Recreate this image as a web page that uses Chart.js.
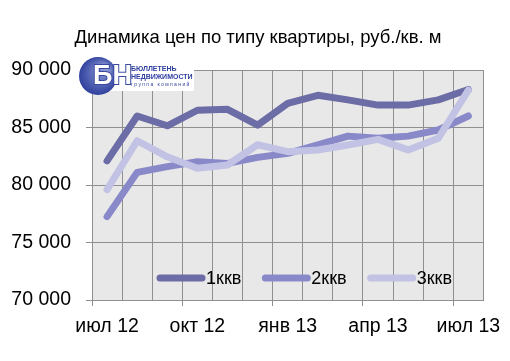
<!DOCTYPE html>
<html>
<head>
<meta charset="utf-8">
<script src="https://cdn.jsdelivr.net/npm/chart.js@4/dist/chart.umd.min.js"></script>
<style>
  html, body { margin: 0; padding: 0; background: #fff; }
  #wrap { width: 510px; height: 361px; position: relative; }
</style>
</head>
<body>
<div id="wrap"><canvas id="myChart" width="510" height="361"></canvas></div>
<script>
const months = ["июл 12", "авг 12", "сен 12", "окт 12", "ноя 12", "дек 12", "янв 13",
  "фев 13", "мар 13", "апр 13", "май 13", "июн 13", "июл 13"];
const room1 = [82100, 86000, 85150, 86500, 86580, 85200, 87100, 87800, 87400, 86950, 86950, 87400, 88300];
const room2 = [77250, 81100, 81600, 82030, 81880, 82400, 82750, 83480, 84250, 84060, 84250, 84780, 86000];
const room3 = [79600, 83850, 82450, 81450, 81740, 83500, 82900, 83050, 83480, 83970, 83050, 84060, 88250];
const seriesNames = ["1ккв", "2ккв", "3ккв"];
const yTicks = [70000, 75000, 80000, 85000, 90000];
const chartTitle = "Динамика цен по типу квартиры, руб./кв. м";

const FONT = "'Liberation Sans', Arial, sans-serif";
const gridColor = "#8f8f8f";

// plot background
const plotBg = {
  id: "plotBg",
  beforeDraw(chart) {
    const a = chart.chartArea, ctx = chart.ctx;
    ctx.save();
    ctx.fillStyle = "#e8e8e8";
    ctx.fillRect(a.left, a.top, a.right - a.left, a.bottom - a.top);
    ctx.restore();
  }
};

// title is a bit right of the plot centre, so draw it by hand
const titleText = {
  id: "titleText",
  afterDraw(chart) {
    const ctx = chart.ctx;
    ctx.save();
    ctx.font = "18.5px " + FONT;
    ctx.fillStyle = "#000";
    ctx.textAlign = "center";
    ctx.textBaseline = "middle";
    ctx.fillText(chartTitle, 258, 38);
    ctx.restore();
  }
};

// legend sits inside the plot, near the bottom
const innerLegend = {
  id: "innerLegend",
  afterDatasetsDraw(chart) {
    const ctx = chart.ctx;
    let x = 160;
    const y = 278;
    ctx.save();
    ctx.font = "18px " + FONT;
    ctx.textBaseline = "middle";
    chart.data.datasets.forEach(ds => {
      ctx.strokeStyle = ds.borderColor;
      ctx.lineWidth = 7;
      ctx.lineCap = "round";
      ctx.beginPath();
      ctx.moveTo(x, y);
      ctx.lineTo(x + 42, y);
      ctx.stroke();
      ctx.fillStyle = "#000";
      ctx.fillText(ds.label, x + 46, y + 1);
      x += 46 + ctx.measureText(ds.label).width + 24;
    });
    ctx.restore();
  }
};

const logo = {
  id: "logo",
  afterDraw(chart) {
    const ctx = chart.ctx;
    ctx.save();
    ctx.fillStyle = "#fff";
    ctx.fillRect(110, 60, 84, 31);
    const g = ctx.createRadialGradient(106, 68, 2, 98, 76, 20);
    g.addColorStop(0, "#8e9bd6");
    g.addColorStop(1, "#2c3d9b");
    ctx.fillStyle = g;
    ctx.beginPath();
    ctx.arc(98, 76, 19, 0, Math.PI * 2);
    ctx.fill();
    ctx.font = "bold 27px " + FONT;
    ctx.textBaseline = "middle";
    ctx.lineWidth = 2;
    ctx.strokeStyle = "#3848a0";
    ctx.strokeText("БН", 93, 77);
    ctx.fillStyle = "#fff";
    ctx.fillText("БН", 93, 77);
    ctx.fillStyle = "#3040a0";
    ctx.font = "bold 7px " + FONT;
    ctx.fillText("БЮЛЛЕТЕНЬ", 131, 69);
    ctx.fillText("НЕДВИЖИМОСТИ", 131, 77);
    ctx.font = "5px " + FONT;
    ctx.fillText("г р у п п а   к о м п а н и й", 131, 85);
    ctx.restore();
  }
};

const ctx = document.getElementById("myChart").getContext("2d");
const myChart = new Chart(ctx, {
  type: "line",
  data: {
    labels: months,
    datasets: [
      { label: seriesNames[0], data: room1, borderColor: "#6c6ca6", order: 2 },
      { label: seriesNames[1], data: room2, borderColor: "#8989c9", order: 1 },
      { label: seriesNames[2], data: room3, borderColor: "#c2c2e4", order: 0 }
    ].map(ds => Object.assign(ds, {
      borderWidth: 7,
      pointRadius: 0,
      tension: 0,
      borderJoinStyle: "round",
      borderCapStyle: "round",
      fill: false
    }))
  },
  options: {
    responsive: false,
    animation: false,
    layout: { padding: { top: 70, right: 22, left: 0, bottom: 0 } },
    plugins: {
      legend: { display: false },
      tooltip: { enabled: false },
      title: { display: false }
    },
    scales: {
      x: {
        offset: true,
        grid: {
          offset: true,
          color: gridColor,
          tickLength: 6,
          tickColor: c => (c.index % 3 === 0 ? gridColor : "rgba(0,0,0,0)")
        },
        border: { color: gridColor },
        ticks: {
          autoSkip: false,
          maxRotation: 0,
          padding: 9,
          color: "#000",
          font: { family: FONT, size: 19.5 },
          callback: (v, i) => (i % 3 === 0 ? months[i] : "")
        },
        afterFit: s => { s.height = 61; }
      },
      y: {
        min: yTicks[0],
        max: yTicks[yTicks.length - 1],
        afterBuildTicks: s => { s.ticks = yTicks.map(v => ({ value: v })); },
        grid: { color: gridColor, tickLength: 6 },
        border: { color: gridColor },
        ticks: {
          padding: 15,
          color: "#000",
          font: { family: FONT, size: 19.5 },
          callback: v => String(v).replace(/\B(?=(\d{3})+(?!\d))/g, " ")
        },
        afterFit: s => { s.width = 92; }
      }
    }
  },
  plugins: [plotBg, titleText, innerLegend, logo]
});
</script>
</body>
</html>
